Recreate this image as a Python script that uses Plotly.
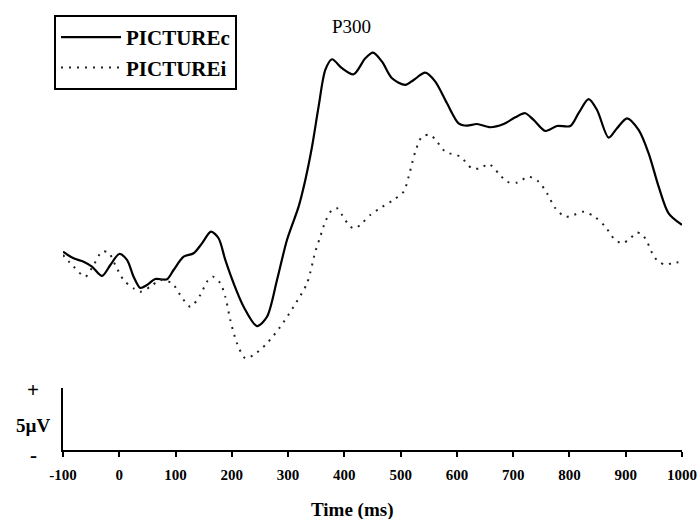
import plotly.graph_objects as go

# ---- data (time in ms, amplitude in microvolts) ----
time_c = [-100, -81.2, -63.4, -48.5, -30.7, -15.9, 0, 13.7, 25.5, 37.4, 49.3, 64.0, 84.8, 96.5,
          114.3, 132.1, 147.0, 163.0, 176.5, 188.4, 203.2, 221.0, 244.7, 262.5, 280.3, 298.0,
          318.7, 330.6, 342.5, 354.2, 366.1, 378.0, 395.8, 416.4, 437.2, 450.9, 466.9, 484.7,
          508.3, 523.1, 543.8, 561.6, 582.4, 603.0, 617.9, 635.7, 659.3, 683.0, 703.8, 721.5,
          736.3, 757.1, 777.9, 801.6, 816.2, 834.0, 849.0, 869.6, 884.5, 902.3, 922.9, 940.7,
          958.5, 976.2, 1000]
amp_c = [0.27, -0.27, -0.54, -0.94, -1.69, -0.81, 0.08, -0.40, -1.75, -2.66, -2.42, -1.94, -1.96, -1.21,
         -0.14, 0.14, 0.94, 1.88, 1.35, -0.40, -2.28, -4.17, -5.73, -4.98, -2.02, 1.21,
         3.90, 6.05, 8.73, 11.96, 14.92, 15.78, 15.06, 14.57, 15.86, 16.31, 15.59, 14.25,
         13.71, 14.11, 14.70, 13.98, 12.23, 10.62, 10.43, 10.56, 10.30, 10.56, 11.10, 11.43,
         10.89, 10.00, 10.40, 10.40, 11.43, 12.56, 11.69, 9.46, 10.22, 11.02, 10.08, 8.20,
         5.51, 3.36, 2.42]

time_i = [-100, -81.2, -60.4, -45.6, -30.7, -19.0, -7.1, 7.7, 25.5, 37.4, 55.1, 72.9, 93.7, 108.5,
          126.2, 144.0, 155.9, 166.6, 179.5, 188.4, 197.3, 209.2, 224.0, 238.7, 262.5, 286.2,
          309.8, 333.6, 348.4, 357.2, 366.1, 378.0, 386.9, 395.8, 410.6, 419.4, 431.3, 446.1,
          463.9, 487.5, 505.3, 514.2, 526.1, 538.0, 552.7, 564.6, 579.4, 606.0, 626.8, 641.6,
          656.3, 674.1, 689.0, 706.8, 727.4, 745.2, 760.1, 774.9, 792.7, 807.4, 825.2, 846.0,
          863.8, 878.5, 893.4, 908.2, 918.8, 928.9, 937.8, 949.6, 958.4, 970.3, 982.2, 1000]
amp_i = [0.0, -0.94, -1.75, -0.81, 0.27, 0.19, -0.81, -2.02, -2.69, -2.96, -2.56, -2.02, -2.28, -3.23,
         -4.17, -3.23, -2.15, -1.75, -2.28, -3.36, -5.24, -7.12, -8.33, -8.06, -7.12, -5.78,
         -4.17, -2.28, 0.27, 1.48, 2.69, 3.63, 3.77, 3.23, 2.28, 2.15, 2.56, 3.23,
         3.79, 4.44, 5.10, 6.31, 8.33, 9.54, 9.68, 9.14, 8.33, 7.93, 6.99, 6.99,
         7.34, 6.59, 5.91, 5.83, 6.31, 5.91, 4.98, 3.77, 3.09, 3.23, 3.49, 3.04,
         2.28, 1.35, 0.94, 1.35, 1.80, 1.67, 1.07, -0.08, -0.54, -0.78, -0.67, -0.54]

x_ticks = [-100, 0, 100, 200, 300, 400, 500, 600, 700, 800, 900, 1000]
series_names = ["PICTUREc", "PICTUREi"]
scale_bar_uv = 5

SERIF = "Liberation Serif, Times New Roman, serif"

fig = go.Figure()
fig.add_trace(go.Scatter(x=time_c, y=amp_c, mode="lines", name=series_names[0],
                         line=dict(color="black", width=2.2, shape="spline", smoothing=0.8),
                         xaxis="x2", yaxis="y2", legendgroup="c"))
fig.add_trace(go.Scatter(x=time_i, y=amp_i, mode="lines", name=series_names[1],
                         line=dict(color="#222", width=2, dash="2px,6px", shape="spline", smoothing=0.8),
                         xaxis="x2", yaxis="y2", legendgroup="i"))

fig.update_layout(
    width=698, height=519,
    margin=dict(l=63, r=16, t=0, b=69),
    plot_bgcolor="white", paper_bgcolor="white",
    font=dict(family=SERIF, color="black"),
    xaxis=dict(domain=[0, 1], anchor="y", range=[-100, 1000],
               tickmode="array", tickvals=x_ticks, ticktext=[str(v) for v in x_ticks],
               showline=True, linecolor="black", linewidth=2,
               ticks="outside", ticklen=5, tickwidth=1.5, tickcolor="black",
               ticklabelstandoff=5,
               tickfont=dict(family=SERIF, size=15, color="black", weight="bold"),
               showgrid=False, zeroline=False, fixedrange=True),
    yaxis=dict(domain=[0, 62 / 450], range=[0, scale_bar_uv], anchor="x",
               showline=True, linecolor="black", linewidth=2,
               ticks="", showticklabels=False, showgrid=False, zeroline=False, fixedrange=True),
    xaxis2=dict(domain=[0, 1], anchor="y2", range=[-100, 1000], visible=False, fixedrange=True),
    yaxis2=dict(domain=[70 / 450, 1], anchor="x2", range=[-10.08, 20.56], visible=False, fixedrange=True),
    showlegend=True,
    legend=dict(x=-0.0145, y=0.9667, xanchor="left", yanchor="top",
                bordercolor="black", borderwidth=2, bgcolor="white",
                font=dict(family=SERIF, size=21, color="black", weight="bold"),
                traceorder="grouped", tracegroupgap=0, itemwidth=60),
    annotations=[
        dict(text="P300", xref="x2", yref="y2", x=412, y=18.4, showarrow=False,
             font=dict(family=SERIF, size=19, color="black")),
        dict(text="Time (ms)", xref="paper", yref="paper", x=0.467, y=-0.133,
             xanchor="center", yanchor="middle", showarrow=False,
             font=dict(family=SERIF, size=19, color="black", weight="bold")),
        dict(text="+", xref="paper", yref="y", x=-0.0485, y=4.84, showarrow=False,
             xanchor="center", yanchor="middle",
             font=dict(family=SERIF, size=21, color="black", weight="bold")),
        dict(text="5µV", xref="paper", yref="y", x=-0.0178, y=2.0, showarrow=False,
             xanchor="right", yanchor="middle",
             font=dict(family=SERIF, size=19, color="black", weight="bold")),
        dict(text="-", xref="paper", yref="paper", x=-0.047, y=-0.011, showarrow=False,
             xanchor="center", yanchor="middle",
             font=dict(family=SERIF, size=21, color="black", weight="bold")),
    ],
)

fig.write_html("out.html")
